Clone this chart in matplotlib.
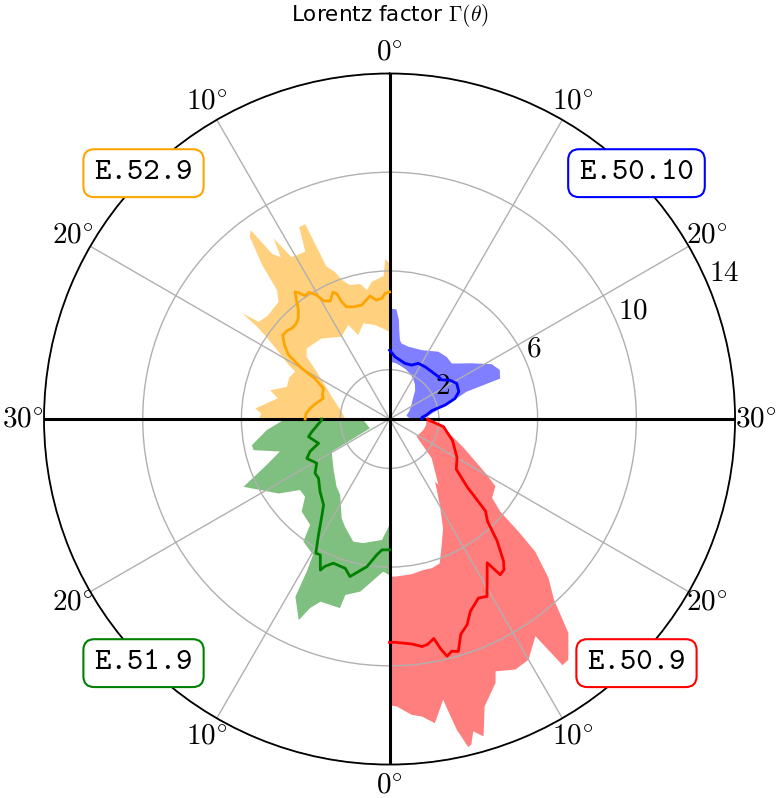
import os
import numpy as np
import matplotlib
import matplotlib.pyplot as plt
from matplotlib.font_manager import FontProperties

plt.rcParams['mathtext.fontset'] = 'cm'

# θ in degrees (0..30) inside each quadrant, Γ values
# E.50.10 (top right)
th_mid_5010 = [0, 1.7, 5.2, 7.4, 9.1, 11.4, 13.9, 16.4, 17.7, 19.1, 20.7, 22.8, 24.2, 25.3, 26.3, 28.0, 29.0, 30]
r_mid_5010 = [2.79, 2.53, 2.34, 2.36, 2.54, 2.56, 2.57, 2.62, 2.64, 2.91, 3.08, 3.02, 2.78, 2.32, 1.74, 1.5, 1.32, 1.3]
th_hi_5010 = [0, 1.2, 1.8, 2.1, 2.5, 3.0, 4.9, 8.3, 12.0, 14.2, 16.1, 18.6, 20.6, 22.0, 23.3, 23.5, 24.0, 25.0, 26.0, 27.0, 28.0, 29.0, 30]
r_hi_5010 = [4.48, 4.45, 4.03, 3.6, 3.23, 3.1, 3.03, 3.08, 3.37, 3.42, 3.38, 4.02, 4.70, 4.89, 4.77, 3.3, 3.0, 2.55, 2.1, 1.85, 1.65, 1.5, 1.45]
th_lo_5010 = [0, 2, 4, 6, 8, 10, 12, 14, 15, 17, 20, 23, 26, 28, 30]
r_lo_5010 = [2.32, 2.28, 2.2, 2.12, 2.02, 1.9, 1.75, 1.55, 1.4, 1.2, 1.0, 0.85, 0.7, 0.75, 0.9]

# E.50.9 (bottom right)
th_mid_509 = [0, 0.5, 1.9, 2.7, 3.2, 3.8, 4.2, 4.55, 5.0, 5.5, 6.1, 6.9, 7.6, 8.8, 9.6, 11.4, 11.8, 12.4,
              12.9, 13.8, 14.6, 15.4, 16.3, 17.7, 20.0, 23.7, 27.3, 29.6, 30]
r_mid_509 = [9.05, 9.05, 9.16, 9.31, 9.26, 9.07, 9.56, 9.89, 9.74, 9.82, 9.19, 8.90, 8.45, 8.10, 8.20, 7.04, 7.74, 7.67,
             7.39, 6.60, 5.73, 5.39, 4.16, 3.38, 3.16, 2.7, 2.21, 1.57, 1.55]
th_hi_509 = [0, 0.48, 1.43, 2.06, 2.83, 3.6, 4.07, 4.5, 4.7, 5.0, 5.5, 6.1, 6.5, 7.3, 7.6, 8.9, 10.0, 11.3, 11.7,
             12.2, 13.3, 14.1, 15.0, 15.9, 16.3, 16.7, 17.5, 19.2, 20.2, 23.0, 28.0, 29.3, 30]
r_hi_509 = [11.6, 11.65, 12.02, 12.12, 12.46, 11.58, 12.88, 13.67, 13.6, 13.1, 13.41, 12.27, 12.0, 11.52, 11.09, 11.36,
            11.26, 10.6, 12.19, 12.15, 11.3, 9.9, 9.11, 7.98, 6.93, 5.85, 5.24, 5.08, 4.46, 3.2, 2.06, 1.75, 1.65]
th_lo_509 = [0, 0.7, 2.7, 4.2, 5.3, 6.4, 7.5, 8.7, 10.1, 12.0, 12.2, 15.7, 19.0, 20.3, 24.3, 27.0, 30]
r_lo_509 = [6.38, 6.39, 6.35, 6.27, 6.28, 6.19, 5.52, 4.93, 4.04, 3.14, 3.32, 2.33, 1.31, 1.33, 1.45, 1.5, 1.5]

# E.51.9 (bottom left)
th_mid_519 = [0, 0.4, 1.1, 1.8, 2.9, 4.7, 5.5, 7.1, 7.9, 8.2, 9.0, 9.6, 10.5, 11.7, 12.5, 14.6, 16.7, 18.0,
              19.6, 21.5, 22.6, 23.7, 25.9, 26.9, 29.7, 30]
r_mid_519 = [5.30, 5.30, 5.31, 5.53, 6.05, 6.58, 6.31, 6.27, 6.52, 6.73, 6.18, 6.20, 5.51, 4.76, 4.39, 4.07, 3.75, 3.73,
             3.45, 3.71, 3.48, 3.04, 3.36, 3.19, 2.75, 2.75]
th_hi_519 = [0, 0.8, 3.2, 4.7, 4.9, 6.9, 7.6, 8.1, 9.3, 9.5, 9.8, 11.7, 12.3, 14.5, 15.8, 17.2, 18.7, 21.7,
             23.2, 24.5, 25.7, 26.4, 28.3, 30]
r_hi_519 = [6.32, 6.19, 7.09, 7.35, 7.92, 7.91, 8.31, 8.94, 8.15, 7.03, 6.31, 6.07, 5.36, 5.17, 4.65, 4.63, 5.41, 6.52,
            5.3, 4.63, 5.65, 5.68, 4.99, 4.23]
th_lo_519 = [0, 1.2, 4.0, 5.5, 7.5, 8.6, 11.0, 12.7, 16.2, 20.2, 20.9, 21.5, 25.6, 29.3, 30]
r_lo_519 = [4.29, 4.91, 5.14, 5.18, 4.72, 4.46, 3.67, 3.48, 3.03, 2.69, 1.3, 0.88, 0.95, 1.06, 1.1]

# E.52.9 (top left)
th_mid_529 = [0, 0.7, 1.2, 2.1, 3.0, 4.6, 6.0, 7.0, 7.4, 7.6, 8.0, 8.9, 9.7, 10.2, 10.8, 11.5, 11.9, 12.2, 12.7,
              13.3, 14.1, 14.9, 15.7, 16.4, 17.3, 18.3, 19.2, 20.0, 20.5, 21.7, 23.3, 24.2, 26.0, 27.5, 28.7, 30]
r_mid_529 = [5.15, 5.09, 4.90, 4.85, 5.05, 4.75, 4.78, 4.87, 5.13, 5.5, 5.63, 5.35, 5.48, 5.85, 6.08, 6.07, 6.3, 6.42,
             6.11, 5.75, 5.5, 5.4, 5.4, 5.48, 5.5, 5.2, 4.85, 4.1, 3.44, 2.95, 2.9, 2.81, 3.05, 3.25, 3.39, 3.42]
th_hi_529 = [0, 0.5, 0.8, 2.5, 3.3, 4.1, 5.5, 6.3, 6.8, 7.5, 7.8, 8.4, 8.9, 9.3, 10.4, 10.9, 11.3, 11.8, 12.1,
             12.5, 13.2, 13.7, 14.5, 16.5, 17.8, 18.1, 18.4, 18.7, 19.6, 20.6, 21.1, 22.5, 24.2, 25.5, 26.5,
             28.5, 29.2, 30]
r_hi_529 = [6.3, 6.5, 5.8, 5.6, 5.3, 5.6, 5.66, 5.95, 6.36, 6.7, 8.6, 8.6, 7.6, 7.6, 7.67, 8.7, 7.9, 8.2, 9.5,
            9.3, 8.1, 6.94, 6.54, 6.47, 6.6, 7.36, 6.5, 6.08, 5.26, 4.64, 4.28, 4.4, 4.36, 4.98, 4.6,
            5.46, 5.2, 5.3]
th_lo_529 = [0, 2.9, 5.1, 6.8, 7.9, 10.1, 13.4, 16.5, 17.7, 19.0, 21.3, 24.1, 27.1, 30]
r_lo_529 = [3.54, 3.85, 4.02, 3.63, 4.16, 3.86, 4.27, 4.41, 4.20, 3.52, 2.83, 2.32, 1.96, 1.8]

models = ['E.50.10', 'E.50.9', 'E.51.9', 'E.52.9']
colors = ['blue', 'red', 'green', 'orange']
r_ticks = [2, 6, 10, 14]
theta_labels = [0, 10, 20, 30, 20, 10, 0, 10, 20, 30, 20, 10]

data = [
    (th_mid_5010, r_mid_5010, th_hi_5010, r_hi_5010, th_lo_5010, r_lo_5010),
    (th_mid_509, r_mid_509, th_hi_509, r_hi_509, th_lo_509, r_lo_509),
    (th_mid_519, r_mid_519, th_hi_519, r_hi_519, th_lo_519, r_lo_519),
    (th_mid_529, r_mid_529, th_hi_529, r_hi_529, th_lo_529, r_lo_529),
]
# where each quadrant starts and which way θ runs (30 deg of θ -> 90 deg of the plot)
quad = [(0, 1), (180, -1), (180, 1), (360, -1)]
box_pos = [(0.816, 0.783), (0.816, 0.169), (0.184, 0.169), (0.184, 0.783)]

# typewriter font for the model names (Computer Modern tt shipped with matplotlib)
tt_font = FontProperties(fname=os.path.join(matplotlib.get_data_path(), 'fonts', 'ttf', 'cmtt10.ttf'), size=22.5)


def ang(th, base, sign):
    return np.deg2rad(base + sign * 3 * np.asarray(th, dtype=float))


fig = plt.figure(figsize=(7.8, 7.98), dpi=100)
ax = fig.add_axes([0.0564, 0.0419, 0.886, 0.866], projection='polar')
ax.set_theta_zero_location('N')
ax.set_theta_direction(-1)

for (tm, rm, th, rh, tl, rl), (base, sign), c in zip(data, quad, colors):
    a_hi = ang(th, base, sign)
    a_lo = ang(tl, base, sign)
    ax.fill(np.r_[a_hi, a_lo[::-1]], np.r_[rh, rl[::-1]], color=c, alpha=0.5, lw=0, zorder=1)
    ax.plot(ang(tm, base, sign), rm, color=c, lw=2, zorder=4)

for a in [0, 90, 180, 270]:
    ax.axvline(np.deg2rad(a), color='k', lw=2.2, zorder=3)

ax.set_ylim(0, 14)
ax.set_yticks(r_ticks)
ax.set_yticklabels(['$%d$' % t for t in r_ticks], fontsize=21)
ax.set_rlabel_position(67.5)
ax.set_thetagrids(np.arange(0, 360, 30), ['$%d^{\\circ}$' % t for t in theta_labels], fontsize=21)
ax.tick_params(axis='x', pad=4.5)
ax.grid(color='#b0b0b0', lw=1.0)
ax.spines['polar'].set_linewidth(1.3)

fig.text(0.5, 0.981, 'Lorentz factor $\\Gamma(\\theta)$', ha='center', va='center', fontsize=15.5)

for name, c, (x, y) in zip(models, colors, box_pos):
    fig.text(x, y, name, ha='center', va='center', fontproperties=tt_font,
             bbox=dict(boxstyle='round,pad=0.35', fc='white', ec=c, lw=1.5))

fig.savefig('out.png', dpi=100)
